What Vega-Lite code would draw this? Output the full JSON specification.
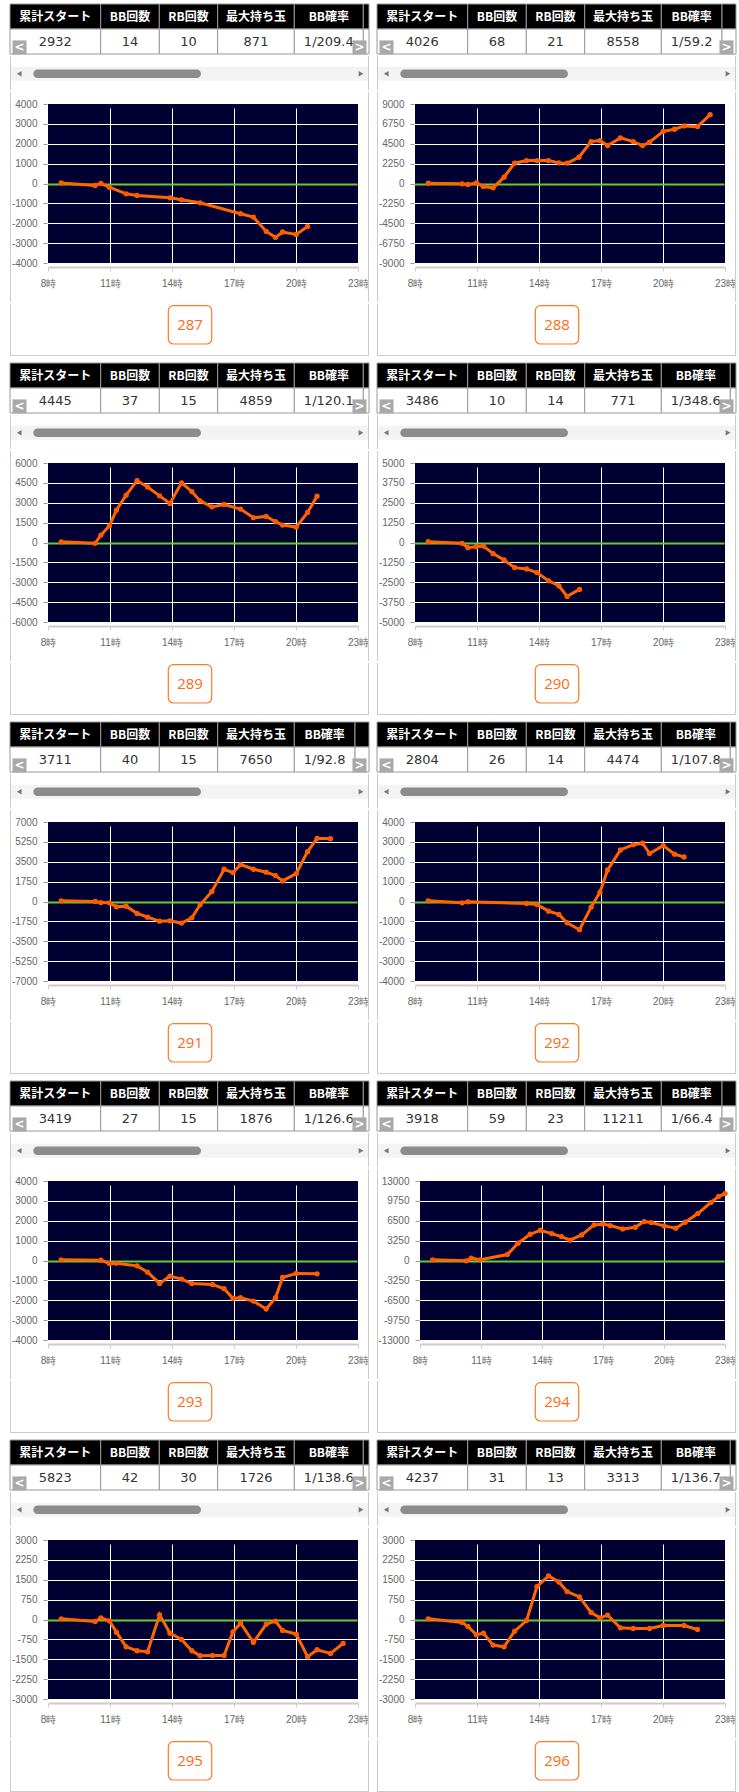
{
"$schema": "https://vega.github.io/schema/vega-lite/v6.json",
"background": "white",
"padding": {"left": 4, "top": 3, "right": 0, "bottom": 0},
"config": {
  "view": {"stroke": null},
  "numberFormat": "d",
  "axis": {"labelFont": "Liberation Sans", "labelFontSize": 10, "labelColor": "#666666", "gridColor": "#ffffff", "gridWidth": 1},
  "axisX": {"offset": 4, "domainColor": "#cccccc", "domainWidth": 2, "tickColor": "#cccccc", "tickSize": 4, "labelPadding": 7, "grid": true},
  "axisY": {"offset": 1, "domain": false, "tickColor": "#999999", "tickSize": 4, "labelPadding": 6, "grid": true, "labelOverlap": false}
},
"datasets": {
  "heads": [{"k":"start","c":0,"head":"累計スタート"},{"k":"bb","c":1,"head":"BB回数"},{"k":"rb","c":2,"head":"RB回数"},{"k":"max","c":3,"head":"最大持ち玉"},{"k":"prob","c":4,"head":"BB確率"},{"k":"more","c":5,"head":""}],
  "nav": [{"s":"<"},{"s":">"}],
  "stats": [
    {"p":287,"start":2932,"bb":14,"rb":10,"max":871,"prob":"1/209.4"},
    {"p":288,"start":4026,"bb":68,"rb":21,"max":8558,"prob":"1/59.2"},
    {"p":289,"start":4445,"bb":37,"rb":15,"max":4859,"prob":"1/120.1"},
    {"p":290,"start":3486,"bb":10,"rb":14,"max":771,"prob":"1/348.6"},
    {"p":291,"start":3711,"bb":40,"rb":15,"max":7650,"prob":"1/92.8"},
    {"p":292,"start":2804,"bb":26,"rb":14,"max":4474,"prob":"1/107.8"},
    {"p":293,"start":3419,"bb":27,"rb":15,"max":1876,"prob":"1/126.6"},
    {"p":294,"start":3918,"bb":59,"rb":23,"max":11211,"prob":"1/66.4"},
    {"p":295,"start":5823,"bb":42,"rb":30,"max":1726,"prob":"1/138.6"},
    {"p":296,"start":4237,"bb":31,"rb":13,"max":3313,"prob":"1/136.7"}
  ],
  "pts": [
    {"p":287,"h":8.64,"v":30},{"p":287,"h":10.28,"v":-100},{"p":287,"h":10.56,"v":0},{"p":287,"h":10.97,"v":-185},{"p":287,"h":11.78,"v":-520},{"p":287,"h":12.31,"v":-600},{"p":287,"h":13.9,"v":-720},{"p":287,"h":14.46,"v":-820},{"p":287,"h":15.36,"v":-970},{"p":287,"h":17.32,"v":-1520},{"p":287,"h":17.94,"v":-1690},{"p":287,"h":18.56,"v":-2410},{"p":287,"h":19.01,"v":-2710},{"p":287,"h":19.35,"v":-2440},{"p":287,"h":20.01,"v":-2560},{"p":287,"h":20.56,"v":-2160},
    {"p":288,"h":8.64,"v":30},{"p":288,"h":10.28,"v":-40},{"p":288,"h":10.56,"v":-110},{"p":288,"h":10.97,"v":75},{"p":288,"h":11.31,"v":-340},{"p":288,"h":11.78,"v":-490},{"p":288,"h":12.31,"v":715},{"p":288,"h":12.82,"v":2300},{"p":288,"h":13.4,"v":2600},{"p":288,"h":13.9,"v":2600},{"p":288,"h":14.46,"v":2600},{"p":288,"h":14.96,"v":2335},{"p":288,"h":15.36,"v":2300},{"p":288,"h":15.93,"v":2975},{"p":288,"h":16.52,"v":4745},{"p":288,"h":16.95,"v":4860},{"p":288,"h":17.32,"v":4295},{"p":288,"h":17.94,"v":5160},{"p":288,"h":18.56,"v":4745},{"p":288,"h":19.01,"v":4295},{"p":288,"h":19.35,"v":4670},{"p":288,"h":20.01,"v":5910},{"p":288,"h":20.56,"v":6140},{"p":288,"h":21.02,"v":6515},{"p":288,"h":21.67,"v":6440},{"p":288,"h":22.28,"v":7795},
    {"p":289,"h":8.64,"v":50},{"p":289,"h":10.28,"v":-60},{"p":289,"h":10.56,"v":560},{"p":289,"h":10.97,"v":1260},{"p":289,"h":11.31,"v":2440},{"p":289,"h":11.78,"v":3570},{"p":289,"h":12.31,"v":4670},{"p":289,"h":12.82,"v":4190},{"p":289,"h":13.4,"v":3520},{"p":289,"h":13.9,"v":2940},{"p":289,"h":14.46,"v":4500},{"p":289,"h":14.96,"v":3840},{"p":289,"h":15.36,"v":3140},{"p":289,"h":15.93,"v":2690},{"p":289,"h":16.52,"v":2870},{"p":289,"h":17.32,"v":2520},{"p":289,"h":17.94,"v":1870},{"p":289,"h":18.56,"v":1970},{"p":289,"h":19.01,"v":1570},{"p":289,"h":19.35,"v":1315},{"p":289,"h":20.01,"v":1165},{"p":289,"h":20.56,"v":2270},{"p":289,"h":21.02,"v":3500},
    {"p":290,"h":8.64,"v":50},{"p":290,"h":10.28,"v":-50},{"p":290,"h":10.56,"v":-325},{"p":290,"h":10.97,"v":-260},{"p":290,"h":11.31,"v":-220},{"p":290,"h":11.78,"v":-700},{"p":290,"h":12.31,"v":-1100},{"p":290,"h":12.82,"v":-1580},{"p":290,"h":13.4,"v":-1660},{"p":290,"h":13.9,"v":-1890},{"p":290,"h":14.46,"v":-2410},{"p":290,"h":14.96,"v":-2720},{"p":290,"h":15.36,"v":-3390},{"p":290,"h":15.96,"v":-2950},
    {"p":291,"h":8.64,"v":60},{"p":291,"h":10.28,"v":0},{"p":291,"h":10.56,"v":-90},{"p":291,"h":10.97,"v":-120},{"p":291,"h":11.31,"v":-470},{"p":291,"h":11.78,"v":-410},{"p":291,"h":12.31,"v":-1050},{"p":291,"h":12.82,"v":-1380},{"p":291,"h":13.4,"v":-1730},{"p":291,"h":13.9,"v":-1700},{"p":291,"h":14.46,"v":-1900},{"p":291,"h":14.96,"v":-1440},{"p":291,"h":15.36,"v":-290},{"p":291,"h":15.93,"v":880},{"p":291,"h":16.52,"v":2840},{"p":291,"h":16.95,"v":2550},{"p":291,"h":17.32,"v":3250},{"p":291,"h":17.94,"v":2840},{"p":291,"h":18.56,"v":2580},{"p":291,"h":19.01,"v":2285},{"p":291,"h":19.35,"v":1815},{"p":291,"h":20.01,"v":2460},{"p":291,"h":20.56,"v":4390},{"p":291,"h":21.02,"v":5565},{"p":291,"h":21.67,"v":5535},
    {"p":292,"h":8.64,"v":35},{"p":292,"h":10.28,"v":-65},{"p":292,"h":10.56,"v":-15},{"p":292,"h":13.4,"v":-100},{"p":292,"h":13.9,"v":-150},{"p":292,"h":14.46,"v":-485},{"p":292,"h":14.96,"v":-650},{"p":292,"h":15.36,"v":-1070},{"p":292,"h":15.96,"v":-1420},{"p":292,"h":16.52,"v":-285},{"p":292,"h":16.95,"v":470},{"p":292,"h":17.32,"v":1590},{"p":292,"h":17.94,"v":2595},{"p":292,"h":18.56,"v":2860},{"p":292,"h":19.01,"v":2930},{"p":292,"h":19.35,"v":2410},{"p":292,"h":20.01,"v":2810},{"p":292,"h":20.56,"v":2380},{"p":292,"h":21.02,"v":2240},
    {"p":293,"h":8.64,"v":35},{"p":293,"h":10.56,"v":15},{"p":293,"h":10.97,"v":-150},{"p":293,"h":11.31,"v":-135},{"p":293,"h":12.31,"v":-270},{"p":293,"h":12.82,"v":-585},{"p":293,"h":13.4,"v":-1155},{"p":293,"h":13.9,"v":-785},{"p":293,"h":14.46,"v":-935},{"p":293,"h":14.96,"v":-1155},{"p":293,"h":15.96,"v":-1205},{"p":293,"h":16.52,"v":-1420},{"p":293,"h":16.95,"v":-1905},{"p":293,"h":17.32,"v":-1875},{"p":293,"h":17.94,"v":-2040},{"p":293,"h":18.56,"v":-2440},{"p":293,"h":19.01,"v":-1875},{"p":293,"h":19.35,"v":-855},{"p":293,"h":20.01,"v":-650},{"p":293,"h":21.02,"v":-670},
    {"p":294,"h":8.62,"v":110},{"p":294,"h":10.27,"v":-55},{"p":294,"h":10.52,"v":380},{"p":294,"h":10.96,"v":110},{"p":294,"h":12.3,"v":980},{"p":294,"h":12.82,"v":2830},{"p":294,"h":13.42,"v":4300},{"p":294,"h":13.92,"v":4950},{"p":294,"h":14.48,"v":4400},{"p":294,"h":14.96,"v":3915},{"p":294,"h":15.38,"v":3320},{"p":294,"h":15.95,"v":4190},{"p":294,"h":16.56,"v":5820},{"p":294,"h":16.99,"v":5980},{"p":294,"h":17.35,"v":5710},{"p":294,"h":17.97,"v":5170},{"p":294,"h":18.59,"v":5440},{"p":294,"h":19.02,"v":6360},{"p":294,"h":19.37,"v":6200},{"p":294,"h":20.01,"v":5660},{"p":294,"h":20.58,"v":5280},{"p":294,"h":21.04,"v":6255},{"p":294,"h":21.66,"v":7670},{"p":294,"h":22.32,"v":9520},{"p":294,"h":22.69,"v":10500},{"p":294,"h":23.0,"v":10950},
    {"p":295,"h":8.64,"v":25},{"p":295,"h":10.28,"v":-75},{"p":295,"h":10.56,"v":63},{"p":295,"h":10.97,"v":-50},{"p":295,"h":11.31,"v":-477},{"p":295,"h":11.78,"v":-1030},{"p":295,"h":12.31,"v":-1180},{"p":295,"h":12.82,"v":-1217},{"p":295,"h":13.4,"v":176},{"p":295,"h":13.9,"v":-515},{"p":295,"h":14.46,"v":-753},{"p":295,"h":14.96,"v":-1180},{"p":295,"h":15.36,"v":-1368},{"p":295,"h":15.96,"v":-1355},{"p":295,"h":16.52,"v":-1355},{"p":295,"h":16.95,"v":-464},{"p":295,"h":17.32,"v":-138},{"p":295,"h":17.94,"v":-866},{"p":295,"h":18.56,"v":-176},{"p":295,"h":19.01,"v":-63},{"p":295,"h":19.35,"v":-414},{"p":295,"h":20.01,"v":-552},{"p":295,"h":20.56,"v":-1406},{"p":295,"h":21.02,"v":-1142},{"p":295,"h":21.67,"v":-1280},{"p":295,"h":22.28,"v":-904},
    {"p":296,"h":8.64,"v":25},{"p":296,"h":10.28,"v":-113},{"p":296,"h":10.56,"v":-264},{"p":296,"h":10.97,"v":-577},{"p":296,"h":11.31,"v":-515},{"p":296,"h":11.78,"v":-966},{"p":296,"h":12.31,"v":-1030},{"p":296,"h":12.82,"v":-439},{"p":296,"h":13.4,"v":-38},{"p":296,"h":13.9,"v":1242},{"p":296,"h":14.46,"v":1644},{"p":296,"h":14.96,"v":1418},{"p":296,"h":15.36,"v":1054},{"p":296,"h":15.96,"v":853},{"p":296,"h":16.52,"v":264},{"p":296,"h":16.95,"v":63},{"p":296,"h":17.32,"v":163},{"p":296,"h":17.94,"v":-314},{"p":296,"h":18.56,"v":-339},{"p":296,"h":19.35,"v":-339},{"p":296,"h":20.01,"v":-226},{"p":296,"h":21.02,"v":-226},{"p":296,"h":21.67,"v":-377}
  ]
},
"vconcat": [
{"hconcat": [
{"vconcat":[
{"width":359,"height":50,"resolve":{"scale":{"x":"independent"}},"layer":[{"data":{"name":"heads"},"transform":[{"calculate":"datum.c+1","as":"c2"},{"calculate":"datum.c+0.5","as":"cm"}],"layer":[{"mark":{"type":"rect","fill":"#000000","stroke":"#999999","strokeWidth":1},"encoding":{"x":{"field":"c","type":"quantitative","scale":{"domain":[0,1,2,3,4,5,6],"range":[0,90.7,149.3,207.7,284.3,353.3,359],"nice":false,"zero":false},"axis":null},"x2":{"field":"c2"},"y":{"datum":0,"scale":{"domain":[0,2],"reverse":true,"nice":false,"zero":false},"axis":null},"y2":{"datum":1}}},{"mark":{"type":"rect","fill":"#ffffff","stroke":"#999999","strokeWidth":1},"encoding":{"x":{"field":"c","type":"quantitative","axis":null},"x2":{"field":"c2"},"y":{"datum":1,"axis":null},"y2":{"datum":2}}},{"mark":{"type":"text","color":"#ffffff","font":"Noto Sans CJK JP","fontSize":12,"fontWeight":"bold"},"encoding":{"x":{"field":"cm","type":"quantitative","axis":null},"y":{"datum":0.5,"axis":null},"text":{"field":"head","type":"nominal"}}}]},{"data":{"name":"stats"},"transform":[{"filter":"datum.p==287"},{"fold":["start","bb","rb","max","prob"]},{"lookup":"key","from":{"data":{"name":"heads"},"key":"k","fields":["c"]}},{"calculate":"datum.c+0.5","as":"cm"}],"mark":{"type":"text","color":"#333333","font":"DejaVu Sans","fontSize":13},"encoding":{"x":{"field":"cm","type":"quantitative","scale":{"domain":[0,1,2,3,4,5,6],"range":[0,90.7,149.3,207.7,284.3,353.3,359],"nice":false,"zero":false},"axis":null},"y":{"datum":1.5,"axis":null},"text":{"field":"value","type":"nominal"}}},{"data":{"name":"nav"},"layer":[{"mark":{"type":"square","size":196,"color":"#a9a9a9","opacity":1,"filled":true},"encoding":{"x":{"field":"s","type":"nominal","scale":{"type":"point","domain":["<",">"],"padding":0.028},"axis":null},"y":{"datum":1.736,"axis":null}}},{"mark":{"type":"text","color":"#ffffff","font":"DejaVu Sans","fontSize":12,"fontWeight":"bold"},"encoding":{"x":{"field":"s","type":"nominal","axis":null},"y":{"datum":1.7,"axis":null},"text":{"field":"s","type":"nominal"}}}]}]},
{"width":359,"height":34,"data":{"values":[{}]},"layer":[{"mark":{"type":"rule","color":"#f3f3f3","strokeWidth":14},"encoding":{"x":{"datum":0.0028,"scale":{"domain":[0,1],"nice":false,"zero":false},"axis":null},"x2":{"datum":0.9972},"y":{"datum":0.48,"scale":{"domain":[0,1],"nice":false,"zero":false},"axis":null}}},{"mark":{"type":"rule","color":"#8c8c8c","strokeWidth":8.5,"strokeCap":"round"},"encoding":{"x":{"datum":0.07674,"axis":null},"x2":{"datum":0.52019},"y":{"datum":0.48,"axis":null}}},{"mark":{"type":"point","shape":"triangle-left","filled":true,"size":30,"color":"#777777","opacity":1},"encoding":{"x":{"datum":0.02563,"axis":null},"y":{"datum":0.48,"axis":null}}},{"mark":{"type":"point","shape":"triangle-right","filled":true,"size":30,"color":"#777777","opacity":1},"encoding":{"x":{"datum":0.97772,"axis":null},"y":{"datum":0.48,"axis":null}}},{"mark":{"type":"rule","color":"#cccccc","strokeWidth":1},"encoding":{"x":{"datum":0.001393,"axis":null}}},{"mark":{"type":"rule","color":"#cccccc","strokeWidth":1},"encoding":{"x":{"datum":0.998607,"axis":null}}}]},
{"hconcat":[
{"width":38,"height":159,"data":{"values":[{}]},"mark":{"type":"rule","color":"#cccccc","strokeWidth":1},"encoding":{"x":{"datum":0.01316,"scale":{"domain":[0,1],"nice":false,"zero":false},"axis":null},"y":{"datum":1.07547,"scale":{"domain":[0,1],"nice":false,"zero":false},"axis":null},"y2":{"datum":-0.24528}}},
{"width":310,"height":159,"view":{"fill":"#000033"},"data":{"name":"pts"},"transform":[{"filter":"datum.p==287"}],"mark":{"type":"line","color":"#ff6600","strokeWidth":3,"point":{"filled":true,"size":28,"color":"#ff5a00"}},"encoding":{"x":{"field":"h","type":"quantitative","title":null,"scale":{"domain":[8,23],"nice":false,"zero":false},"axis":{"values":[8,11,14,17,20,23],"labelExpr":"datum.value+'時'","labelFlush":false,"gridOpacity":{"condition":{"test":"datum.value==8||datum.value==23","value":0},"value":1}}},"y":{"field":"v","type":"quantitative","title":null,"scale":{"domain":[-4000,4000],"nice":false,"zero":false},"axis":{"values":[-4000,-3000,-2000,-1000,0,1000,2000,3000,4000],"labelExpr":"''+datum.value","gridOpacity":{"condition":{"test":"abs(datum.value)==4000","value":0},"value":1},"gridColor":{"condition":{"test":"datum.value==0","value":"#66cc33"},"value":"#ffffff"},"gridWidth":{"condition":{"test":"datum.value==0","value":2},"value":1}}}}},
{"width":11,"height":159,"data":{"values":[{}]},"mark":{"type":"rule","color":"#cccccc","strokeWidth":1},"encoding":{"x":{"datum":0.95455,"scale":{"domain":[0,1],"nice":false,"zero":false},"axis":null},"y":{"datum":1.07547,"scale":{"domain":[0,1],"nice":false,"zero":false},"axis":null},"y2":{"datum":-0.24528}}}
],"spacing":0,"bounds":"flush"},
{"width":359,"height":58,"data":{"name":"stats"},"transform":[{"filter":"datum.p==287"}],"layer":[{"mark":{"type":"rect","fill":"#ffffff","stroke":"#ff7b22","strokeWidth":1.2,"cornerRadius":5},"encoding":{"x":{"datum":0.44095,"scale":{"domain":[0,1],"nice":false,"zero":false},"axis":null},"x2":{"datum":0.56184},"y":{"datum":0.9707,"scale":{"domain":[0,1],"nice":false,"zero":false},"axis":null},"y2":{"datum":0.3103}}},{"mark":{"type":"text","color":"#ff6a13","font":"Open Sans","fontSize":15},"encoding":{"x":{"datum":0.5014,"axis":null},"y":{"datum":0.6405,"axis":null},"text":{"field":"p","type":"nominal"}}},{"mark":{"type":"rule","color":"#cccccc","strokeWidth":1},"encoding":{"x":{"datum":0.001393,"axis":null},"y":{"datum":1,"axis":null},"y2":{"datum":0.1121}}},{"mark":{"type":"rule","color":"#cccccc","strokeWidth":1},"encoding":{"x":{"datum":0.998607,"axis":null},"y":{"datum":1,"axis":null},"y2":{"datum":0.1121}}},{"mark":{"type":"rule","color":"#cccccc","strokeWidth":1},"encoding":{"x":{"datum":0,"axis":null},"x2":{"datum":1},"y":{"datum":0.1121,"axis":null}}}]}
],"spacing":0},

{"vconcat":[
{"width":359,"height":50,"resolve":{"scale":{"x":"independent"}},"layer":[{"data":{"name":"heads"},"transform":[{"calculate":"datum.c+1","as":"c2"},{"calculate":"datum.c+0.5","as":"cm"}],"layer":[{"mark":{"type":"rect","fill":"#000000","stroke":"#999999","strokeWidth":1},"encoding":{"x":{"field":"c","type":"quantitative","scale":{"domain":[0,1,2,3,4,5,6],"range":[0,90.7,149.3,207.7,284.3,345,359],"nice":false,"zero":false},"axis":null},"x2":{"field":"c2"},"y":{"datum":0,"scale":{"domain":[0,2],"reverse":true,"nice":false,"zero":false},"axis":null},"y2":{"datum":1}}},{"mark":{"type":"rect","fill":"#ffffff","stroke":"#999999","strokeWidth":1},"encoding":{"x":{"field":"c","type":"quantitative","axis":null},"x2":{"field":"c2"},"y":{"datum":1,"axis":null},"y2":{"datum":2}}},{"mark":{"type":"text","color":"#ffffff","font":"Noto Sans CJK JP","fontSize":12,"fontWeight":"bold"},"encoding":{"x":{"field":"cm","type":"quantitative","axis":null},"y":{"datum":0.5,"axis":null},"text":{"field":"head","type":"nominal"}}}]},{"data":{"name":"stats"},"transform":[{"filter":"datum.p==288"},{"fold":["start","bb","rb","max","prob"]},{"lookup":"key","from":{"data":{"name":"heads"},"key":"k","fields":["c"]}},{"calculate":"datum.c+0.5","as":"cm"}],"mark":{"type":"text","color":"#333333","font":"DejaVu Sans","fontSize":13},"encoding":{"x":{"field":"cm","type":"quantitative","scale":{"domain":[0,1,2,3,4,5,6],"range":[0,90.7,149.3,207.7,284.3,345,359],"nice":false,"zero":false},"axis":null},"y":{"datum":1.5,"axis":null},"text":{"field":"value","type":"nominal"}}},{"data":{"name":"nav"},"layer":[{"mark":{"type":"square","size":196,"color":"#a9a9a9","opacity":1,"filled":true},"encoding":{"x":{"field":"s","type":"nominal","scale":{"type":"point","domain":["<",">"],"padding":0.028},"axis":null},"y":{"datum":1.736,"axis":null}}},{"mark":{"type":"text","color":"#ffffff","font":"DejaVu Sans","fontSize":12,"fontWeight":"bold"},"encoding":{"x":{"field":"s","type":"nominal","axis":null},"y":{"datum":1.7,"axis":null},"text":{"field":"s","type":"nominal"}}}]}]},
{"width":359,"height":34,"data":{"values":[{}]},"layer":[{"mark":{"type":"rule","color":"#f3f3f3","strokeWidth":14},"encoding":{"x":{"datum":0.0028,"scale":{"domain":[0,1],"nice":false,"zero":false},"axis":null},"x2":{"datum":0.9972},"y":{"datum":0.48,"scale":{"domain":[0,1],"nice":false,"zero":false},"axis":null}}},{"mark":{"type":"rule","color":"#8c8c8c","strokeWidth":8.5,"strokeCap":"round"},"encoding":{"x":{"datum":0.07674,"axis":null},"x2":{"datum":0.52019},"y":{"datum":0.48,"axis":null}}},{"mark":{"type":"point","shape":"triangle-left","filled":true,"size":30,"color":"#777777","opacity":1},"encoding":{"x":{"datum":0.02563,"axis":null},"y":{"datum":0.48,"axis":null}}},{"mark":{"type":"point","shape":"triangle-right","filled":true,"size":30,"color":"#777777","opacity":1},"encoding":{"x":{"datum":0.97772,"axis":null},"y":{"datum":0.48,"axis":null}}},{"mark":{"type":"rule","color":"#cccccc","strokeWidth":1},"encoding":{"x":{"datum":0.001393,"axis":null}}},{"mark":{"type":"rule","color":"#cccccc","strokeWidth":1},"encoding":{"x":{"datum":0.998607,"axis":null}}}]},
{"hconcat":[
{"width":38,"height":159,"data":{"values":[{}]},"mark":{"type":"rule","color":"#cccccc","strokeWidth":1},"encoding":{"x":{"datum":0.01316,"scale":{"domain":[0,1],"nice":false,"zero":false},"axis":null},"y":{"datum":1.07547,"scale":{"domain":[0,1],"nice":false,"zero":false},"axis":null},"y2":{"datum":-0.24528}}},
{"width":310,"height":159,"view":{"fill":"#000033"},"data":{"name":"pts"},"transform":[{"filter":"datum.p==288"}],"mark":{"type":"line","color":"#ff6600","strokeWidth":3,"point":{"filled":true,"size":28,"color":"#ff5a00"}},"encoding":{"x":{"field":"h","type":"quantitative","title":null,"scale":{"domain":[8,23],"nice":false,"zero":false},"axis":{"values":[8,11,14,17,20,23],"labelExpr":"datum.value+'時'","labelFlush":false,"gridOpacity":{"condition":{"test":"datum.value==8||datum.value==23","value":0},"value":1}}},"y":{"field":"v","type":"quantitative","title":null,"scale":{"domain":[-9000,9000],"nice":false,"zero":false},"axis":{"values":[-9000,-6750,-4500,-2250,0,2250,4500,6750,9000],"labelExpr":"''+datum.value","gridOpacity":{"condition":{"test":"abs(datum.value)==9000","value":0},"value":1},"gridColor":{"condition":{"test":"datum.value==0","value":"#66cc33"},"value":"#ffffff"},"gridWidth":{"condition":{"test":"datum.value==0","value":2},"value":1}}}}},
{"width":11,"height":159,"data":{"values":[{}]},"mark":{"type":"rule","color":"#cccccc","strokeWidth":1},"encoding":{"x":{"datum":0.95455,"scale":{"domain":[0,1],"nice":false,"zero":false},"axis":null},"y":{"datum":1.07547,"scale":{"domain":[0,1],"nice":false,"zero":false},"axis":null},"y2":{"datum":-0.24528}}}
],"spacing":0,"bounds":"flush"},
{"width":359,"height":58,"data":{"name":"stats"},"transform":[{"filter":"datum.p==288"}],"layer":[{"mark":{"type":"rect","fill":"#ffffff","stroke":"#ff7b22","strokeWidth":1.2,"cornerRadius":5},"encoding":{"x":{"datum":0.44095,"scale":{"domain":[0,1],"nice":false,"zero":false},"axis":null},"x2":{"datum":0.56184},"y":{"datum":0.9707,"scale":{"domain":[0,1],"nice":false,"zero":false},"axis":null},"y2":{"datum":0.3103}}},{"mark":{"type":"text","color":"#ff6a13","font":"Open Sans","fontSize":15},"encoding":{"x":{"datum":0.5014,"axis":null},"y":{"datum":0.6405,"axis":null},"text":{"field":"p","type":"nominal"}}},{"mark":{"type":"rule","color":"#cccccc","strokeWidth":1},"encoding":{"x":{"datum":0.001393,"axis":null},"y":{"datum":1,"axis":null},"y2":{"datum":0.1121}}},{"mark":{"type":"rule","color":"#cccccc","strokeWidth":1},"encoding":{"x":{"datum":0.998607,"axis":null},"y":{"datum":1,"axis":null},"y2":{"datum":0.1121}}},{"mark":{"type":"rule","color":"#cccccc","strokeWidth":1},"encoding":{"x":{"datum":0,"axis":null},"x2":{"datum":1},"y":{"datum":0.1121,"axis":null}}}]}
],"spacing":0}
], "spacing": -4},

{"hconcat": [
{"vconcat":[
{"width":359,"height":50,"resolve":{"scale":{"x":"independent"}},"layer":[{"data":{"name":"heads"},"transform":[{"calculate":"datum.c+1","as":"c2"},{"calculate":"datum.c+0.5","as":"cm"}],"layer":[{"mark":{"type":"rect","fill":"#000000","stroke":"#999999","strokeWidth":1},"encoding":{"x":{"field":"c","type":"quantitative","scale":{"domain":[0,1,2,3,4,5,6],"range":[0,90.7,149.3,207.7,284.3,353.3,359],"nice":false,"zero":false},"axis":null},"x2":{"field":"c2"},"y":{"datum":0,"scale":{"domain":[0,2],"reverse":true,"nice":false,"zero":false},"axis":null},"y2":{"datum":1}}},{"mark":{"type":"rect","fill":"#ffffff","stroke":"#999999","strokeWidth":1},"encoding":{"x":{"field":"c","type":"quantitative","axis":null},"x2":{"field":"c2"},"y":{"datum":1,"axis":null},"y2":{"datum":2}}},{"mark":{"type":"text","color":"#ffffff","font":"Noto Sans CJK JP","fontSize":12,"fontWeight":"bold"},"encoding":{"x":{"field":"cm","type":"quantitative","axis":null},"y":{"datum":0.5,"axis":null},"text":{"field":"head","type":"nominal"}}}]},{"data":{"name":"stats"},"transform":[{"filter":"datum.p==289"},{"fold":["start","bb","rb","max","prob"]},{"lookup":"key","from":{"data":{"name":"heads"},"key":"k","fields":["c"]}},{"calculate":"datum.c+0.5","as":"cm"}],"mark":{"type":"text","color":"#333333","font":"DejaVu Sans","fontSize":13},"encoding":{"x":{"field":"cm","type":"quantitative","scale":{"domain":[0,1,2,3,4,5,6],"range":[0,90.7,149.3,207.7,284.3,353.3,359],"nice":false,"zero":false},"axis":null},"y":{"datum":1.5,"axis":null},"text":{"field":"value","type":"nominal"}}},{"data":{"name":"nav"},"layer":[{"mark":{"type":"square","size":196,"color":"#a9a9a9","opacity":1,"filled":true},"encoding":{"x":{"field":"s","type":"nominal","scale":{"type":"point","domain":["<",">"],"padding":0.028},"axis":null},"y":{"datum":1.736,"axis":null}}},{"mark":{"type":"text","color":"#ffffff","font":"DejaVu Sans","fontSize":12,"fontWeight":"bold"},"encoding":{"x":{"field":"s","type":"nominal","axis":null},"y":{"datum":1.7,"axis":null},"text":{"field":"s","type":"nominal"}}}]}]},
{"width":359,"height":34,"data":{"values":[{}]},"layer":[{"mark":{"type":"rule","color":"#f3f3f3","strokeWidth":14},"encoding":{"x":{"datum":0.0028,"scale":{"domain":[0,1],"nice":false,"zero":false},"axis":null},"x2":{"datum":0.9972},"y":{"datum":0.48,"scale":{"domain":[0,1],"nice":false,"zero":false},"axis":null}}},{"mark":{"type":"rule","color":"#8c8c8c","strokeWidth":8.5,"strokeCap":"round"},"encoding":{"x":{"datum":0.07674,"axis":null},"x2":{"datum":0.52019},"y":{"datum":0.48,"axis":null}}},{"mark":{"type":"point","shape":"triangle-left","filled":true,"size":30,"color":"#777777","opacity":1},"encoding":{"x":{"datum":0.02563,"axis":null},"y":{"datum":0.48,"axis":null}}},{"mark":{"type":"point","shape":"triangle-right","filled":true,"size":30,"color":"#777777","opacity":1},"encoding":{"x":{"datum":0.97772,"axis":null},"y":{"datum":0.48,"axis":null}}},{"mark":{"type":"rule","color":"#cccccc","strokeWidth":1},"encoding":{"x":{"datum":0.001393,"axis":null}}},{"mark":{"type":"rule","color":"#cccccc","strokeWidth":1},"encoding":{"x":{"datum":0.998607,"axis":null}}}]},
{"hconcat":[
{"width":38,"height":159,"data":{"values":[{}]},"mark":{"type":"rule","color":"#cccccc","strokeWidth":1},"encoding":{"x":{"datum":0.01316,"scale":{"domain":[0,1],"nice":false,"zero":false},"axis":null},"y":{"datum":1.07547,"scale":{"domain":[0,1],"nice":false,"zero":false},"axis":null},"y2":{"datum":-0.24528}}},
{"width":310,"height":159,"view":{"fill":"#000033"},"data":{"name":"pts"},"transform":[{"filter":"datum.p==289"}],"mark":{"type":"line","color":"#ff6600","strokeWidth":3,"point":{"filled":true,"size":28,"color":"#ff5a00"}},"encoding":{"x":{"field":"h","type":"quantitative","title":null,"scale":{"domain":[8,23],"nice":false,"zero":false},"axis":{"values":[8,11,14,17,20,23],"labelExpr":"datum.value+'時'","labelFlush":false,"gridOpacity":{"condition":{"test":"datum.value==8||datum.value==23","value":0},"value":1}}},"y":{"field":"v","type":"quantitative","title":null,"scale":{"domain":[-6000,6000],"nice":false,"zero":false},"axis":{"values":[-6000,-4500,-3000,-1500,0,1500,3000,4500,6000],"labelExpr":"''+datum.value","gridOpacity":{"condition":{"test":"abs(datum.value)==6000","value":0},"value":1},"gridColor":{"condition":{"test":"datum.value==0","value":"#66cc33"},"value":"#ffffff"},"gridWidth":{"condition":{"test":"datum.value==0","value":2},"value":1}}}}},
{"width":11,"height":159,"data":{"values":[{}]},"mark":{"type":"rule","color":"#cccccc","strokeWidth":1},"encoding":{"x":{"datum":0.95455,"scale":{"domain":[0,1],"nice":false,"zero":false},"axis":null},"y":{"datum":1.07547,"scale":{"domain":[0,1],"nice":false,"zero":false},"axis":null},"y2":{"datum":-0.24528}}}
],"spacing":0,"bounds":"flush"},
{"width":359,"height":58,"data":{"name":"stats"},"transform":[{"filter":"datum.p==289"}],"layer":[{"mark":{"type":"rect","fill":"#ffffff","stroke":"#ff7b22","strokeWidth":1.2,"cornerRadius":5},"encoding":{"x":{"datum":0.44095,"scale":{"domain":[0,1],"nice":false,"zero":false},"axis":null},"x2":{"datum":0.56184},"y":{"datum":0.9707,"scale":{"domain":[0,1],"nice":false,"zero":false},"axis":null},"y2":{"datum":0.3103}}},{"mark":{"type":"text","color":"#ff6a13","font":"Open Sans","fontSize":15},"encoding":{"x":{"datum":0.5014,"axis":null},"y":{"datum":0.6405,"axis":null},"text":{"field":"p","type":"nominal"}}},{"mark":{"type":"rule","color":"#cccccc","strokeWidth":1},"encoding":{"x":{"datum":0.001393,"axis":null},"y":{"datum":1,"axis":null},"y2":{"datum":0.1121}}},{"mark":{"type":"rule","color":"#cccccc","strokeWidth":1},"encoding":{"x":{"datum":0.998607,"axis":null},"y":{"datum":1,"axis":null},"y2":{"datum":0.1121}}},{"mark":{"type":"rule","color":"#cccccc","strokeWidth":1},"encoding":{"x":{"datum":0,"axis":null},"x2":{"datum":1},"y":{"datum":0.1121,"axis":null}}}]}
],"spacing":0},

{"vconcat":[
{"width":359,"height":50,"resolve":{"scale":{"x":"independent"}},"layer":[{"data":{"name":"heads"},"transform":[{"calculate":"datum.c+1","as":"c2"},{"calculate":"datum.c+0.5","as":"cm"}],"layer":[{"mark":{"type":"rect","fill":"#000000","stroke":"#999999","strokeWidth":1},"encoding":{"x":{"field":"c","type":"quantitative","scale":{"domain":[0,1,2,3,4,5,6],"range":[0,90.7,149.3,207.7,284.3,353.3,359],"nice":false,"zero":false},"axis":null},"x2":{"field":"c2"},"y":{"datum":0,"scale":{"domain":[0,2],"reverse":true,"nice":false,"zero":false},"axis":null},"y2":{"datum":1}}},{"mark":{"type":"rect","fill":"#ffffff","stroke":"#999999","strokeWidth":1},"encoding":{"x":{"field":"c","type":"quantitative","axis":null},"x2":{"field":"c2"},"y":{"datum":1,"axis":null},"y2":{"datum":2}}},{"mark":{"type":"text","color":"#ffffff","font":"Noto Sans CJK JP","fontSize":12,"fontWeight":"bold"},"encoding":{"x":{"field":"cm","type":"quantitative","axis":null},"y":{"datum":0.5,"axis":null},"text":{"field":"head","type":"nominal"}}}]},{"data":{"name":"stats"},"transform":[{"filter":"datum.p==290"},{"fold":["start","bb","rb","max","prob"]},{"lookup":"key","from":{"data":{"name":"heads"},"key":"k","fields":["c"]}},{"calculate":"datum.c+0.5","as":"cm"}],"mark":{"type":"text","color":"#333333","font":"DejaVu Sans","fontSize":13},"encoding":{"x":{"field":"cm","type":"quantitative","scale":{"domain":[0,1,2,3,4,5,6],"range":[0,90.7,149.3,207.7,284.3,353.3,359],"nice":false,"zero":false},"axis":null},"y":{"datum":1.5,"axis":null},"text":{"field":"value","type":"nominal"}}},{"data":{"name":"nav"},"layer":[{"mark":{"type":"square","size":196,"color":"#a9a9a9","opacity":1,"filled":true},"encoding":{"x":{"field":"s","type":"nominal","scale":{"type":"point","domain":["<",">"],"padding":0.028},"axis":null},"y":{"datum":1.736,"axis":null}}},{"mark":{"type":"text","color":"#ffffff","font":"DejaVu Sans","fontSize":12,"fontWeight":"bold"},"encoding":{"x":{"field":"s","type":"nominal","axis":null},"y":{"datum":1.7,"axis":null},"text":{"field":"s","type":"nominal"}}}]}]},
{"width":359,"height":34,"data":{"values":[{}]},"layer":[{"mark":{"type":"rule","color":"#f3f3f3","strokeWidth":14},"encoding":{"x":{"datum":0.0028,"scale":{"domain":[0,1],"nice":false,"zero":false},"axis":null},"x2":{"datum":0.9972},"y":{"datum":0.48,"scale":{"domain":[0,1],"nice":false,"zero":false},"axis":null}}},{"mark":{"type":"rule","color":"#8c8c8c","strokeWidth":8.5,"strokeCap":"round"},"encoding":{"x":{"datum":0.07674,"axis":null},"x2":{"datum":0.52019},"y":{"datum":0.48,"axis":null}}},{"mark":{"type":"point","shape":"triangle-left","filled":true,"size":30,"color":"#777777","opacity":1},"encoding":{"x":{"datum":0.02563,"axis":null},"y":{"datum":0.48,"axis":null}}},{"mark":{"type":"point","shape":"triangle-right","filled":true,"size":30,"color":"#777777","opacity":1},"encoding":{"x":{"datum":0.97772,"axis":null},"y":{"datum":0.48,"axis":null}}},{"mark":{"type":"rule","color":"#cccccc","strokeWidth":1},"encoding":{"x":{"datum":0.001393,"axis":null}}},{"mark":{"type":"rule","color":"#cccccc","strokeWidth":1},"encoding":{"x":{"datum":0.998607,"axis":null}}}]},
{"hconcat":[
{"width":38,"height":159,"data":{"values":[{}]},"mark":{"type":"rule","color":"#cccccc","strokeWidth":1},"encoding":{"x":{"datum":0.01316,"scale":{"domain":[0,1],"nice":false,"zero":false},"axis":null},"y":{"datum":1.07547,"scale":{"domain":[0,1],"nice":false,"zero":false},"axis":null},"y2":{"datum":-0.24528}}},
{"width":310,"height":159,"view":{"fill":"#000033"},"data":{"name":"pts"},"transform":[{"filter":"datum.p==290"}],"mark":{"type":"line","color":"#ff6600","strokeWidth":3,"point":{"filled":true,"size":28,"color":"#ff5a00"}},"encoding":{"x":{"field":"h","type":"quantitative","title":null,"scale":{"domain":[8,23],"nice":false,"zero":false},"axis":{"values":[8,11,14,17,20,23],"labelExpr":"datum.value+'時'","labelFlush":false,"gridOpacity":{"condition":{"test":"datum.value==8||datum.value==23","value":0},"value":1}}},"y":{"field":"v","type":"quantitative","title":null,"scale":{"domain":[-5000,5000],"nice":false,"zero":false},"axis":{"values":[-5000,-3750,-2500,-1250,0,1250,2500,3750,5000],"labelExpr":"''+datum.value","gridOpacity":{"condition":{"test":"abs(datum.value)==5000","value":0},"value":1},"gridColor":{"condition":{"test":"datum.value==0","value":"#66cc33"},"value":"#ffffff"},"gridWidth":{"condition":{"test":"datum.value==0","value":2},"value":1}}}}},
{"width":11,"height":159,"data":{"values":[{}]},"mark":{"type":"rule","color":"#cccccc","strokeWidth":1},"encoding":{"x":{"datum":0.95455,"scale":{"domain":[0,1],"nice":false,"zero":false},"axis":null},"y":{"datum":1.07547,"scale":{"domain":[0,1],"nice":false,"zero":false},"axis":null},"y2":{"datum":-0.24528}}}
],"spacing":0,"bounds":"flush"},
{"width":359,"height":58,"data":{"name":"stats"},"transform":[{"filter":"datum.p==290"}],"layer":[{"mark":{"type":"rect","fill":"#ffffff","stroke":"#ff7b22","strokeWidth":1.2,"cornerRadius":5},"encoding":{"x":{"datum":0.44095,"scale":{"domain":[0,1],"nice":false,"zero":false},"axis":null},"x2":{"datum":0.56184},"y":{"datum":0.9707,"scale":{"domain":[0,1],"nice":false,"zero":false},"axis":null},"y2":{"datum":0.3103}}},{"mark":{"type":"text","color":"#ff6a13","font":"Open Sans","fontSize":15},"encoding":{"x":{"datum":0.5014,"axis":null},"y":{"datum":0.6405,"axis":null},"text":{"field":"p","type":"nominal"}}},{"mark":{"type":"rule","color":"#cccccc","strokeWidth":1},"encoding":{"x":{"datum":0.001393,"axis":null},"y":{"datum":1,"axis":null},"y2":{"datum":0.1121}}},{"mark":{"type":"rule","color":"#cccccc","strokeWidth":1},"encoding":{"x":{"datum":0.998607,"axis":null},"y":{"datum":1,"axis":null},"y2":{"datum":0.1121}}},{"mark":{"type":"rule","color":"#cccccc","strokeWidth":1},"encoding":{"x":{"datum":0,"axis":null},"x2":{"datum":1},"y":{"datum":0.1121,"axis":null}}}]}
],"spacing":0}
], "spacing": -4},

{"hconcat": [
{"vconcat":[
{"width":359,"height":50,"resolve":{"scale":{"x":"independent"}},"layer":[{"data":{"name":"heads"},"transform":[{"calculate":"datum.c+1","as":"c2"},{"calculate":"datum.c+0.5","as":"cm"}],"layer":[{"mark":{"type":"rect","fill":"#000000","stroke":"#999999","strokeWidth":1},"encoding":{"x":{"field":"c","type":"quantitative","scale":{"domain":[0,1,2,3,4,5,6],"range":[0,90.7,149.3,207.7,284.3,345,359],"nice":false,"zero":false},"axis":null},"x2":{"field":"c2"},"y":{"datum":0,"scale":{"domain":[0,2],"reverse":true,"nice":false,"zero":false},"axis":null},"y2":{"datum":1}}},{"mark":{"type":"rect","fill":"#ffffff","stroke":"#999999","strokeWidth":1},"encoding":{"x":{"field":"c","type":"quantitative","axis":null},"x2":{"field":"c2"},"y":{"datum":1,"axis":null},"y2":{"datum":2}}},{"mark":{"type":"text","color":"#ffffff","font":"Noto Sans CJK JP","fontSize":12,"fontWeight":"bold"},"encoding":{"x":{"field":"cm","type":"quantitative","axis":null},"y":{"datum":0.5,"axis":null},"text":{"field":"head","type":"nominal"}}}]},{"data":{"name":"stats"},"transform":[{"filter":"datum.p==291"},{"fold":["start","bb","rb","max","prob"]},{"lookup":"key","from":{"data":{"name":"heads"},"key":"k","fields":["c"]}},{"calculate":"datum.c+0.5","as":"cm"}],"mark":{"type":"text","color":"#333333","font":"DejaVu Sans","fontSize":13},"encoding":{"x":{"field":"cm","type":"quantitative","scale":{"domain":[0,1,2,3,4,5,6],"range":[0,90.7,149.3,207.7,284.3,345,359],"nice":false,"zero":false},"axis":null},"y":{"datum":1.5,"axis":null},"text":{"field":"value","type":"nominal"}}},{"data":{"name":"nav"},"layer":[{"mark":{"type":"square","size":196,"color":"#a9a9a9","opacity":1,"filled":true},"encoding":{"x":{"field":"s","type":"nominal","scale":{"type":"point","domain":["<",">"],"padding":0.028},"axis":null},"y":{"datum":1.736,"axis":null}}},{"mark":{"type":"text","color":"#ffffff","font":"DejaVu Sans","fontSize":12,"fontWeight":"bold"},"encoding":{"x":{"field":"s","type":"nominal","axis":null},"y":{"datum":1.7,"axis":null},"text":{"field":"s","type":"nominal"}}}]}]},
{"width":359,"height":34,"data":{"values":[{}]},"layer":[{"mark":{"type":"rule","color":"#f3f3f3","strokeWidth":14},"encoding":{"x":{"datum":0.0028,"scale":{"domain":[0,1],"nice":false,"zero":false},"axis":null},"x2":{"datum":0.9972},"y":{"datum":0.48,"scale":{"domain":[0,1],"nice":false,"zero":false},"axis":null}}},{"mark":{"type":"rule","color":"#8c8c8c","strokeWidth":8.5,"strokeCap":"round"},"encoding":{"x":{"datum":0.07674,"axis":null},"x2":{"datum":0.52019},"y":{"datum":0.48,"axis":null}}},{"mark":{"type":"point","shape":"triangle-left","filled":true,"size":30,"color":"#777777","opacity":1},"encoding":{"x":{"datum":0.02563,"axis":null},"y":{"datum":0.48,"axis":null}}},{"mark":{"type":"point","shape":"triangle-right","filled":true,"size":30,"color":"#777777","opacity":1},"encoding":{"x":{"datum":0.97772,"axis":null},"y":{"datum":0.48,"axis":null}}},{"mark":{"type":"rule","color":"#cccccc","strokeWidth":1},"encoding":{"x":{"datum":0.001393,"axis":null}}},{"mark":{"type":"rule","color":"#cccccc","strokeWidth":1},"encoding":{"x":{"datum":0.998607,"axis":null}}}]},
{"hconcat":[
{"width":38,"height":159,"data":{"values":[{}]},"mark":{"type":"rule","color":"#cccccc","strokeWidth":1},"encoding":{"x":{"datum":0.01316,"scale":{"domain":[0,1],"nice":false,"zero":false},"axis":null},"y":{"datum":1.07547,"scale":{"domain":[0,1],"nice":false,"zero":false},"axis":null},"y2":{"datum":-0.24528}}},
{"width":310,"height":159,"view":{"fill":"#000033"},"data":{"name":"pts"},"transform":[{"filter":"datum.p==291"}],"mark":{"type":"line","color":"#ff6600","strokeWidth":3,"point":{"filled":true,"size":28,"color":"#ff5a00"}},"encoding":{"x":{"field":"h","type":"quantitative","title":null,"scale":{"domain":[8,23],"nice":false,"zero":false},"axis":{"values":[8,11,14,17,20,23],"labelExpr":"datum.value+'時'","labelFlush":false,"gridOpacity":{"condition":{"test":"datum.value==8||datum.value==23","value":0},"value":1}}},"y":{"field":"v","type":"quantitative","title":null,"scale":{"domain":[-7000,7000],"nice":false,"zero":false},"axis":{"values":[-7000,-5250,-3500,-1750,0,1750,3500,5250,7000],"labelExpr":"''+datum.value","gridOpacity":{"condition":{"test":"abs(datum.value)==7000","value":0},"value":1},"gridColor":{"condition":{"test":"datum.value==0","value":"#66cc33"},"value":"#ffffff"},"gridWidth":{"condition":{"test":"datum.value==0","value":2},"value":1}}}}},
{"width":11,"height":159,"data":{"values":[{}]},"mark":{"type":"rule","color":"#cccccc","strokeWidth":1},"encoding":{"x":{"datum":0.95455,"scale":{"domain":[0,1],"nice":false,"zero":false},"axis":null},"y":{"datum":1.07547,"scale":{"domain":[0,1],"nice":false,"zero":false},"axis":null},"y2":{"datum":-0.24528}}}
],"spacing":0,"bounds":"flush"},
{"width":359,"height":58,"data":{"name":"stats"},"transform":[{"filter":"datum.p==291"}],"layer":[{"mark":{"type":"rect","fill":"#ffffff","stroke":"#ff7b22","strokeWidth":1.2,"cornerRadius":5},"encoding":{"x":{"datum":0.44095,"scale":{"domain":[0,1],"nice":false,"zero":false},"axis":null},"x2":{"datum":0.56184},"y":{"datum":0.9707,"scale":{"domain":[0,1],"nice":false,"zero":false},"axis":null},"y2":{"datum":0.3103}}},{"mark":{"type":"text","color":"#ff6a13","font":"Open Sans","fontSize":15},"encoding":{"x":{"datum":0.5014,"axis":null},"y":{"datum":0.6405,"axis":null},"text":{"field":"p","type":"nominal"}}},{"mark":{"type":"rule","color":"#cccccc","strokeWidth":1},"encoding":{"x":{"datum":0.001393,"axis":null},"y":{"datum":1,"axis":null},"y2":{"datum":0.1121}}},{"mark":{"type":"rule","color":"#cccccc","strokeWidth":1},"encoding":{"x":{"datum":0.998607,"axis":null},"y":{"datum":1,"axis":null},"y2":{"datum":0.1121}}},{"mark":{"type":"rule","color":"#cccccc","strokeWidth":1},"encoding":{"x":{"datum":0,"axis":null},"x2":{"datum":1},"y":{"datum":0.1121,"axis":null}}}]}
],"spacing":0},

{"vconcat":[
{"width":359,"height":50,"resolve":{"scale":{"x":"independent"}},"layer":[{"data":{"name":"heads"},"transform":[{"calculate":"datum.c+1","as":"c2"},{"calculate":"datum.c+0.5","as":"cm"}],"layer":[{"mark":{"type":"rect","fill":"#000000","stroke":"#999999","strokeWidth":1},"encoding":{"x":{"field":"c","type":"quantitative","scale":{"domain":[0,1,2,3,4,5,6],"range":[0,90.7,149.3,207.7,284.3,353.3,359],"nice":false,"zero":false},"axis":null},"x2":{"field":"c2"},"y":{"datum":0,"scale":{"domain":[0,2],"reverse":true,"nice":false,"zero":false},"axis":null},"y2":{"datum":1}}},{"mark":{"type":"rect","fill":"#ffffff","stroke":"#999999","strokeWidth":1},"encoding":{"x":{"field":"c","type":"quantitative","axis":null},"x2":{"field":"c2"},"y":{"datum":1,"axis":null},"y2":{"datum":2}}},{"mark":{"type":"text","color":"#ffffff","font":"Noto Sans CJK JP","fontSize":12,"fontWeight":"bold"},"encoding":{"x":{"field":"cm","type":"quantitative","axis":null},"y":{"datum":0.5,"axis":null},"text":{"field":"head","type":"nominal"}}}]},{"data":{"name":"stats"},"transform":[{"filter":"datum.p==292"},{"fold":["start","bb","rb","max","prob"]},{"lookup":"key","from":{"data":{"name":"heads"},"key":"k","fields":["c"]}},{"calculate":"datum.c+0.5","as":"cm"}],"mark":{"type":"text","color":"#333333","font":"DejaVu Sans","fontSize":13},"encoding":{"x":{"field":"cm","type":"quantitative","scale":{"domain":[0,1,2,3,4,5,6],"range":[0,90.7,149.3,207.7,284.3,353.3,359],"nice":false,"zero":false},"axis":null},"y":{"datum":1.5,"axis":null},"text":{"field":"value","type":"nominal"}}},{"data":{"name":"nav"},"layer":[{"mark":{"type":"square","size":196,"color":"#a9a9a9","opacity":1,"filled":true},"encoding":{"x":{"field":"s","type":"nominal","scale":{"type":"point","domain":["<",">"],"padding":0.028},"axis":null},"y":{"datum":1.736,"axis":null}}},{"mark":{"type":"text","color":"#ffffff","font":"DejaVu Sans","fontSize":12,"fontWeight":"bold"},"encoding":{"x":{"field":"s","type":"nominal","axis":null},"y":{"datum":1.7,"axis":null},"text":{"field":"s","type":"nominal"}}}]}]},
{"width":359,"height":34,"data":{"values":[{}]},"layer":[{"mark":{"type":"rule","color":"#f3f3f3","strokeWidth":14},"encoding":{"x":{"datum":0.0028,"scale":{"domain":[0,1],"nice":false,"zero":false},"axis":null},"x2":{"datum":0.9972},"y":{"datum":0.48,"scale":{"domain":[0,1],"nice":false,"zero":false},"axis":null}}},{"mark":{"type":"rule","color":"#8c8c8c","strokeWidth":8.5,"strokeCap":"round"},"encoding":{"x":{"datum":0.07674,"axis":null},"x2":{"datum":0.52019},"y":{"datum":0.48,"axis":null}}},{"mark":{"type":"point","shape":"triangle-left","filled":true,"size":30,"color":"#777777","opacity":1},"encoding":{"x":{"datum":0.02563,"axis":null},"y":{"datum":0.48,"axis":null}}},{"mark":{"type":"point","shape":"triangle-right","filled":true,"size":30,"color":"#777777","opacity":1},"encoding":{"x":{"datum":0.97772,"axis":null},"y":{"datum":0.48,"axis":null}}},{"mark":{"type":"rule","color":"#cccccc","strokeWidth":1},"encoding":{"x":{"datum":0.001393,"axis":null}}},{"mark":{"type":"rule","color":"#cccccc","strokeWidth":1},"encoding":{"x":{"datum":0.998607,"axis":null}}}]},
{"hconcat":[
{"width":38,"height":159,"data":{"values":[{}]},"mark":{"type":"rule","color":"#cccccc","strokeWidth":1},"encoding":{"x":{"datum":0.01316,"scale":{"domain":[0,1],"nice":false,"zero":false},"axis":null},"y":{"datum":1.07547,"scale":{"domain":[0,1],"nice":false,"zero":false},"axis":null},"y2":{"datum":-0.24528}}},
{"width":310,"height":159,"view":{"fill":"#000033"},"data":{"name":"pts"},"transform":[{"filter":"datum.p==292"}],"mark":{"type":"line","color":"#ff6600","strokeWidth":3,"point":{"filled":true,"size":28,"color":"#ff5a00"}},"encoding":{"x":{"field":"h","type":"quantitative","title":null,"scale":{"domain":[8,23],"nice":false,"zero":false},"axis":{"values":[8,11,14,17,20,23],"labelExpr":"datum.value+'時'","labelFlush":false,"gridOpacity":{"condition":{"test":"datum.value==8||datum.value==23","value":0},"value":1}}},"y":{"field":"v","type":"quantitative","title":null,"scale":{"domain":[-4000,4000],"nice":false,"zero":false},"axis":{"values":[-4000,-3000,-2000,-1000,0,1000,2000,3000,4000],"labelExpr":"''+datum.value","gridOpacity":{"condition":{"test":"abs(datum.value)==4000","value":0},"value":1},"gridColor":{"condition":{"test":"datum.value==0","value":"#66cc33"},"value":"#ffffff"},"gridWidth":{"condition":{"test":"datum.value==0","value":2},"value":1}}}}},
{"width":11,"height":159,"data":{"values":[{}]},"mark":{"type":"rule","color":"#cccccc","strokeWidth":1},"encoding":{"x":{"datum":0.95455,"scale":{"domain":[0,1],"nice":false,"zero":false},"axis":null},"y":{"datum":1.07547,"scale":{"domain":[0,1],"nice":false,"zero":false},"axis":null},"y2":{"datum":-0.24528}}}
],"spacing":0,"bounds":"flush"},
{"width":359,"height":58,"data":{"name":"stats"},"transform":[{"filter":"datum.p==292"}],"layer":[{"mark":{"type":"rect","fill":"#ffffff","stroke":"#ff7b22","strokeWidth":1.2,"cornerRadius":5},"encoding":{"x":{"datum":0.44095,"scale":{"domain":[0,1],"nice":false,"zero":false},"axis":null},"x2":{"datum":0.56184},"y":{"datum":0.9707,"scale":{"domain":[0,1],"nice":false,"zero":false},"axis":null},"y2":{"datum":0.3103}}},{"mark":{"type":"text","color":"#ff6a13","font":"Open Sans","fontSize":15},"encoding":{"x":{"datum":0.5014,"axis":null},"y":{"datum":0.6405,"axis":null},"text":{"field":"p","type":"nominal"}}},{"mark":{"type":"rule","color":"#cccccc","strokeWidth":1},"encoding":{"x":{"datum":0.001393,"axis":null},"y":{"datum":1,"axis":null},"y2":{"datum":0.1121}}},{"mark":{"type":"rule","color":"#cccccc","strokeWidth":1},"encoding":{"x":{"datum":0.998607,"axis":null},"y":{"datum":1,"axis":null},"y2":{"datum":0.1121}}},{"mark":{"type":"rule","color":"#cccccc","strokeWidth":1},"encoding":{"x":{"datum":0,"axis":null},"x2":{"datum":1},"y":{"datum":0.1121,"axis":null}}}]}
],"spacing":0}
], "spacing": -4},

{"hconcat": [
{"vconcat":[
{"width":359,"height":50,"resolve":{"scale":{"x":"independent"}},"layer":[{"data":{"name":"heads"},"transform":[{"calculate":"datum.c+1","as":"c2"},{"calculate":"datum.c+0.5","as":"cm"}],"layer":[{"mark":{"type":"rect","fill":"#000000","stroke":"#999999","strokeWidth":1},"encoding":{"x":{"field":"c","type":"quantitative","scale":{"domain":[0,1,2,3,4,5,6],"range":[0,90.7,149.3,207.7,284.3,353.3,359],"nice":false,"zero":false},"axis":null},"x2":{"field":"c2"},"y":{"datum":0,"scale":{"domain":[0,2],"reverse":true,"nice":false,"zero":false},"axis":null},"y2":{"datum":1}}},{"mark":{"type":"rect","fill":"#ffffff","stroke":"#999999","strokeWidth":1},"encoding":{"x":{"field":"c","type":"quantitative","axis":null},"x2":{"field":"c2"},"y":{"datum":1,"axis":null},"y2":{"datum":2}}},{"mark":{"type":"text","color":"#ffffff","font":"Noto Sans CJK JP","fontSize":12,"fontWeight":"bold"},"encoding":{"x":{"field":"cm","type":"quantitative","axis":null},"y":{"datum":0.5,"axis":null},"text":{"field":"head","type":"nominal"}}}]},{"data":{"name":"stats"},"transform":[{"filter":"datum.p==293"},{"fold":["start","bb","rb","max","prob"]},{"lookup":"key","from":{"data":{"name":"heads"},"key":"k","fields":["c"]}},{"calculate":"datum.c+0.5","as":"cm"}],"mark":{"type":"text","color":"#333333","font":"DejaVu Sans","fontSize":13},"encoding":{"x":{"field":"cm","type":"quantitative","scale":{"domain":[0,1,2,3,4,5,6],"range":[0,90.7,149.3,207.7,284.3,353.3,359],"nice":false,"zero":false},"axis":null},"y":{"datum":1.5,"axis":null},"text":{"field":"value","type":"nominal"}}},{"data":{"name":"nav"},"layer":[{"mark":{"type":"square","size":196,"color":"#a9a9a9","opacity":1,"filled":true},"encoding":{"x":{"field":"s","type":"nominal","scale":{"type":"point","domain":["<",">"],"padding":0.028},"axis":null},"y":{"datum":1.736,"axis":null}}},{"mark":{"type":"text","color":"#ffffff","font":"DejaVu Sans","fontSize":12,"fontWeight":"bold"},"encoding":{"x":{"field":"s","type":"nominal","axis":null},"y":{"datum":1.7,"axis":null},"text":{"field":"s","type":"nominal"}}}]}]},
{"width":359,"height":34,"data":{"values":[{}]},"layer":[{"mark":{"type":"rule","color":"#f3f3f3","strokeWidth":14},"encoding":{"x":{"datum":0.0028,"scale":{"domain":[0,1],"nice":false,"zero":false},"axis":null},"x2":{"datum":0.9972},"y":{"datum":0.48,"scale":{"domain":[0,1],"nice":false,"zero":false},"axis":null}}},{"mark":{"type":"rule","color":"#8c8c8c","strokeWidth":8.5,"strokeCap":"round"},"encoding":{"x":{"datum":0.07674,"axis":null},"x2":{"datum":0.52019},"y":{"datum":0.48,"axis":null}}},{"mark":{"type":"point","shape":"triangle-left","filled":true,"size":30,"color":"#777777","opacity":1},"encoding":{"x":{"datum":0.02563,"axis":null},"y":{"datum":0.48,"axis":null}}},{"mark":{"type":"point","shape":"triangle-right","filled":true,"size":30,"color":"#777777","opacity":1},"encoding":{"x":{"datum":0.97772,"axis":null},"y":{"datum":0.48,"axis":null}}},{"mark":{"type":"rule","color":"#cccccc","strokeWidth":1},"encoding":{"x":{"datum":0.001393,"axis":null}}},{"mark":{"type":"rule","color":"#cccccc","strokeWidth":1},"encoding":{"x":{"datum":0.998607,"axis":null}}}]},
{"hconcat":[
{"width":38,"height":159,"data":{"values":[{}]},"mark":{"type":"rule","color":"#cccccc","strokeWidth":1},"encoding":{"x":{"datum":0.01316,"scale":{"domain":[0,1],"nice":false,"zero":false},"axis":null},"y":{"datum":1.07547,"scale":{"domain":[0,1],"nice":false,"zero":false},"axis":null},"y2":{"datum":-0.24528}}},
{"width":310,"height":159,"view":{"fill":"#000033"},"data":{"name":"pts"},"transform":[{"filter":"datum.p==293"}],"mark":{"type":"line","color":"#ff6600","strokeWidth":3,"point":{"filled":true,"size":28,"color":"#ff5a00"}},"encoding":{"x":{"field":"h","type":"quantitative","title":null,"scale":{"domain":[8,23],"nice":false,"zero":false},"axis":{"values":[8,11,14,17,20,23],"labelExpr":"datum.value+'時'","labelFlush":false,"gridOpacity":{"condition":{"test":"datum.value==8||datum.value==23","value":0},"value":1}}},"y":{"field":"v","type":"quantitative","title":null,"scale":{"domain":[-4000,4000],"nice":false,"zero":false},"axis":{"values":[-4000,-3000,-2000,-1000,0,1000,2000,3000,4000],"labelExpr":"''+datum.value","gridOpacity":{"condition":{"test":"abs(datum.value)==4000","value":0},"value":1},"gridColor":{"condition":{"test":"datum.value==0","value":"#66cc33"},"value":"#ffffff"},"gridWidth":{"condition":{"test":"datum.value==0","value":2},"value":1}}}}},
{"width":11,"height":159,"data":{"values":[{}]},"mark":{"type":"rule","color":"#cccccc","strokeWidth":1},"encoding":{"x":{"datum":0.95455,"scale":{"domain":[0,1],"nice":false,"zero":false},"axis":null},"y":{"datum":1.07547,"scale":{"domain":[0,1],"nice":false,"zero":false},"axis":null},"y2":{"datum":-0.24528}}}
],"spacing":0,"bounds":"flush"},
{"width":359,"height":58,"data":{"name":"stats"},"transform":[{"filter":"datum.p==293"}],"layer":[{"mark":{"type":"rect","fill":"#ffffff","stroke":"#ff7b22","strokeWidth":1.2,"cornerRadius":5},"encoding":{"x":{"datum":0.44095,"scale":{"domain":[0,1],"nice":false,"zero":false},"axis":null},"x2":{"datum":0.56184},"y":{"datum":0.9707,"scale":{"domain":[0,1],"nice":false,"zero":false},"axis":null},"y2":{"datum":0.3103}}},{"mark":{"type":"text","color":"#ff6a13","font":"Open Sans","fontSize":15},"encoding":{"x":{"datum":0.5014,"axis":null},"y":{"datum":0.6405,"axis":null},"text":{"field":"p","type":"nominal"}}},{"mark":{"type":"rule","color":"#cccccc","strokeWidth":1},"encoding":{"x":{"datum":0.001393,"axis":null},"y":{"datum":1,"axis":null},"y2":{"datum":0.1121}}},{"mark":{"type":"rule","color":"#cccccc","strokeWidth":1},"encoding":{"x":{"datum":0.998607,"axis":null},"y":{"datum":1,"axis":null},"y2":{"datum":0.1121}}},{"mark":{"type":"rule","color":"#cccccc","strokeWidth":1},"encoding":{"x":{"datum":0,"axis":null},"x2":{"datum":1},"y":{"datum":0.1121,"axis":null}}}]}
],"spacing":0},

{"vconcat":[
{"width":359,"height":50,"resolve":{"scale":{"x":"independent"}},"layer":[{"data":{"name":"heads"},"transform":[{"calculate":"datum.c+1","as":"c2"},{"calculate":"datum.c+0.5","as":"cm"}],"layer":[{"mark":{"type":"rect","fill":"#000000","stroke":"#999999","strokeWidth":1},"encoding":{"x":{"field":"c","type":"quantitative","scale":{"domain":[0,1,2,3,4,5,6],"range":[0,90.7,149.3,207.7,284.3,345,359],"nice":false,"zero":false},"axis":null},"x2":{"field":"c2"},"y":{"datum":0,"scale":{"domain":[0,2],"reverse":true,"nice":false,"zero":false},"axis":null},"y2":{"datum":1}}},{"mark":{"type":"rect","fill":"#ffffff","stroke":"#999999","strokeWidth":1},"encoding":{"x":{"field":"c","type":"quantitative","axis":null},"x2":{"field":"c2"},"y":{"datum":1,"axis":null},"y2":{"datum":2}}},{"mark":{"type":"text","color":"#ffffff","font":"Noto Sans CJK JP","fontSize":12,"fontWeight":"bold"},"encoding":{"x":{"field":"cm","type":"quantitative","axis":null},"y":{"datum":0.5,"axis":null},"text":{"field":"head","type":"nominal"}}}]},{"data":{"name":"stats"},"transform":[{"filter":"datum.p==294"},{"fold":["start","bb","rb","max","prob"]},{"lookup":"key","from":{"data":{"name":"heads"},"key":"k","fields":["c"]}},{"calculate":"datum.c+0.5","as":"cm"}],"mark":{"type":"text","color":"#333333","font":"DejaVu Sans","fontSize":13},"encoding":{"x":{"field":"cm","type":"quantitative","scale":{"domain":[0,1,2,3,4,5,6],"range":[0,90.7,149.3,207.7,284.3,345,359],"nice":false,"zero":false},"axis":null},"y":{"datum":1.5,"axis":null},"text":{"field":"value","type":"nominal"}}},{"data":{"name":"nav"},"layer":[{"mark":{"type":"square","size":196,"color":"#a9a9a9","opacity":1,"filled":true},"encoding":{"x":{"field":"s","type":"nominal","scale":{"type":"point","domain":["<",">"],"padding":0.028},"axis":null},"y":{"datum":1.736,"axis":null}}},{"mark":{"type":"text","color":"#ffffff","font":"DejaVu Sans","fontSize":12,"fontWeight":"bold"},"encoding":{"x":{"field":"s","type":"nominal","axis":null},"y":{"datum":1.7,"axis":null},"text":{"field":"s","type":"nominal"}}}]}]},
{"width":359,"height":34,"data":{"values":[{}]},"layer":[{"mark":{"type":"rule","color":"#f3f3f3","strokeWidth":14},"encoding":{"x":{"datum":0.0028,"scale":{"domain":[0,1],"nice":false,"zero":false},"axis":null},"x2":{"datum":0.9972},"y":{"datum":0.48,"scale":{"domain":[0,1],"nice":false,"zero":false},"axis":null}}},{"mark":{"type":"rule","color":"#8c8c8c","strokeWidth":8.5,"strokeCap":"round"},"encoding":{"x":{"datum":0.07674,"axis":null},"x2":{"datum":0.52019},"y":{"datum":0.48,"axis":null}}},{"mark":{"type":"point","shape":"triangle-left","filled":true,"size":30,"color":"#777777","opacity":1},"encoding":{"x":{"datum":0.02563,"axis":null},"y":{"datum":0.48,"axis":null}}},{"mark":{"type":"point","shape":"triangle-right","filled":true,"size":30,"color":"#777777","opacity":1},"encoding":{"x":{"datum":0.97772,"axis":null},"y":{"datum":0.48,"axis":null}}},{"mark":{"type":"rule","color":"#cccccc","strokeWidth":1},"encoding":{"x":{"datum":0.001393,"axis":null}}},{"mark":{"type":"rule","color":"#cccccc","strokeWidth":1},"encoding":{"x":{"datum":0.998607,"axis":null}}}]},
{"hconcat":[
{"width":43,"height":159,"data":{"values":[{}]},"mark":{"type":"rule","color":"#cccccc","strokeWidth":1},"encoding":{"x":{"datum":0.01163,"scale":{"domain":[0,1],"nice":false,"zero":false},"axis":null},"y":{"datum":1.07547,"scale":{"domain":[0,1],"nice":false,"zero":false},"axis":null},"y2":{"datum":-0.24528}}},
{"width":305,"height":159,"view":{"fill":"#000033"},"data":{"name":"pts"},"transform":[{"filter":"datum.p==294"}],"mark":{"type":"line","color":"#ff6600","strokeWidth":3,"point":{"filled":true,"size":28,"color":"#ff5a00"}},"encoding":{"x":{"field":"h","type":"quantitative","title":null,"scale":{"domain":[8,23],"nice":false,"zero":false},"axis":{"values":[8,11,14,17,20,23],"labelExpr":"datum.value+'時'","labelFlush":false,"gridOpacity":{"condition":{"test":"datum.value==8||datum.value==23","value":0},"value":1}}},"y":{"field":"v","type":"quantitative","title":null,"scale":{"domain":[-13000,13000],"nice":false,"zero":false},"axis":{"values":[-13000,-9750,-6500,-3250,0,3250,6500,9750,13000],"labelExpr":"''+datum.value","gridOpacity":{"condition":{"test":"abs(datum.value)==13000","value":0},"value":1},"gridColor":{"condition":{"test":"datum.value==0","value":"#66cc33"},"value":"#ffffff"},"gridWidth":{"condition":{"test":"datum.value==0","value":2},"value":1}}}}},
{"width":11,"height":159,"data":{"values":[{}]},"mark":{"type":"rule","color":"#cccccc","strokeWidth":1},"encoding":{"x":{"datum":0.95455,"scale":{"domain":[0,1],"nice":false,"zero":false},"axis":null},"y":{"datum":1.07547,"scale":{"domain":[0,1],"nice":false,"zero":false},"axis":null},"y2":{"datum":-0.24528}}}
],"spacing":0,"bounds":"flush"},
{"width":359,"height":58,"data":{"name":"stats"},"transform":[{"filter":"datum.p==294"}],"layer":[{"mark":{"type":"rect","fill":"#ffffff","stroke":"#ff7b22","strokeWidth":1.2,"cornerRadius":5},"encoding":{"x":{"datum":0.44095,"scale":{"domain":[0,1],"nice":false,"zero":false},"axis":null},"x2":{"datum":0.56184},"y":{"datum":0.9707,"scale":{"domain":[0,1],"nice":false,"zero":false},"axis":null},"y2":{"datum":0.3103}}},{"mark":{"type":"text","color":"#ff6a13","font":"Open Sans","fontSize":15},"encoding":{"x":{"datum":0.5014,"axis":null},"y":{"datum":0.6405,"axis":null},"text":{"field":"p","type":"nominal"}}},{"mark":{"type":"rule","color":"#cccccc","strokeWidth":1},"encoding":{"x":{"datum":0.001393,"axis":null},"y":{"datum":1,"axis":null},"y2":{"datum":0.1121}}},{"mark":{"type":"rule","color":"#cccccc","strokeWidth":1},"encoding":{"x":{"datum":0.998607,"axis":null},"y":{"datum":1,"axis":null},"y2":{"datum":0.1121}}},{"mark":{"type":"rule","color":"#cccccc","strokeWidth":1},"encoding":{"x":{"datum":0,"axis":null},"x2":{"datum":1},"y":{"datum":0.1121,"axis":null}}}]}
],"spacing":0}
], "spacing": -4},

{"hconcat": [
{"vconcat":[
{"width":359,"height":50,"resolve":{"scale":{"x":"independent"}},"layer":[{"data":{"name":"heads"},"transform":[{"calculate":"datum.c+1","as":"c2"},{"calculate":"datum.c+0.5","as":"cm"}],"layer":[{"mark":{"type":"rect","fill":"#000000","stroke":"#999999","strokeWidth":1},"encoding":{"x":{"field":"c","type":"quantitative","scale":{"domain":[0,1,2,3,4,5,6],"range":[0,90.7,149.3,207.7,284.3,353.3,359],"nice":false,"zero":false},"axis":null},"x2":{"field":"c2"},"y":{"datum":0,"scale":{"domain":[0,2],"reverse":true,"nice":false,"zero":false},"axis":null},"y2":{"datum":1}}},{"mark":{"type":"rect","fill":"#ffffff","stroke":"#999999","strokeWidth":1},"encoding":{"x":{"field":"c","type":"quantitative","axis":null},"x2":{"field":"c2"},"y":{"datum":1,"axis":null},"y2":{"datum":2}}},{"mark":{"type":"text","color":"#ffffff","font":"Noto Sans CJK JP","fontSize":12,"fontWeight":"bold"},"encoding":{"x":{"field":"cm","type":"quantitative","axis":null},"y":{"datum":0.5,"axis":null},"text":{"field":"head","type":"nominal"}}}]},{"data":{"name":"stats"},"transform":[{"filter":"datum.p==295"},{"fold":["start","bb","rb","max","prob"]},{"lookup":"key","from":{"data":{"name":"heads"},"key":"k","fields":["c"]}},{"calculate":"datum.c+0.5","as":"cm"}],"mark":{"type":"text","color":"#333333","font":"DejaVu Sans","fontSize":13},"encoding":{"x":{"field":"cm","type":"quantitative","scale":{"domain":[0,1,2,3,4,5,6],"range":[0,90.7,149.3,207.7,284.3,353.3,359],"nice":false,"zero":false},"axis":null},"y":{"datum":1.5,"axis":null},"text":{"field":"value","type":"nominal"}}},{"data":{"name":"nav"},"layer":[{"mark":{"type":"square","size":196,"color":"#a9a9a9","opacity":1,"filled":true},"encoding":{"x":{"field":"s","type":"nominal","scale":{"type":"point","domain":["<",">"],"padding":0.028},"axis":null},"y":{"datum":1.736,"axis":null}}},{"mark":{"type":"text","color":"#ffffff","font":"DejaVu Sans","fontSize":12,"fontWeight":"bold"},"encoding":{"x":{"field":"s","type":"nominal","axis":null},"y":{"datum":1.7,"axis":null},"text":{"field":"s","type":"nominal"}}}]}]},
{"width":359,"height":34,"data":{"values":[{}]},"layer":[{"mark":{"type":"rule","color":"#f3f3f3","strokeWidth":14},"encoding":{"x":{"datum":0.0028,"scale":{"domain":[0,1],"nice":false,"zero":false},"axis":null},"x2":{"datum":0.9972},"y":{"datum":0.48,"scale":{"domain":[0,1],"nice":false,"zero":false},"axis":null}}},{"mark":{"type":"rule","color":"#8c8c8c","strokeWidth":8.5,"strokeCap":"round"},"encoding":{"x":{"datum":0.07674,"axis":null},"x2":{"datum":0.52019},"y":{"datum":0.48,"axis":null}}},{"mark":{"type":"point","shape":"triangle-left","filled":true,"size":30,"color":"#777777","opacity":1},"encoding":{"x":{"datum":0.02563,"axis":null},"y":{"datum":0.48,"axis":null}}},{"mark":{"type":"point","shape":"triangle-right","filled":true,"size":30,"color":"#777777","opacity":1},"encoding":{"x":{"datum":0.97772,"axis":null},"y":{"datum":0.48,"axis":null}}},{"mark":{"type":"rule","color":"#cccccc","strokeWidth":1},"encoding":{"x":{"datum":0.001393,"axis":null}}},{"mark":{"type":"rule","color":"#cccccc","strokeWidth":1},"encoding":{"x":{"datum":0.998607,"axis":null}}}]},
{"hconcat":[
{"width":38,"height":159,"data":{"values":[{}]},"mark":{"type":"rule","color":"#cccccc","strokeWidth":1},"encoding":{"x":{"datum":0.01316,"scale":{"domain":[0,1],"nice":false,"zero":false},"axis":null},"y":{"datum":1.07547,"scale":{"domain":[0,1],"nice":false,"zero":false},"axis":null},"y2":{"datum":-0.24528}}},
{"width":310,"height":159,"view":{"fill":"#000033"},"data":{"name":"pts"},"transform":[{"filter":"datum.p==295"}],"mark":{"type":"line","color":"#ff6600","strokeWidth":3,"point":{"filled":true,"size":28,"color":"#ff5a00"}},"encoding":{"x":{"field":"h","type":"quantitative","title":null,"scale":{"domain":[8,23],"nice":false,"zero":false},"axis":{"values":[8,11,14,17,20,23],"labelExpr":"datum.value+'時'","labelFlush":false,"gridOpacity":{"condition":{"test":"datum.value==8||datum.value==23","value":0},"value":1}}},"y":{"field":"v","type":"quantitative","title":null,"scale":{"domain":[-3000,3000],"nice":false,"zero":false},"axis":{"values":[-3000,-2250,-1500,-750,0,750,1500,2250,3000],"labelExpr":"''+datum.value","gridOpacity":{"condition":{"test":"abs(datum.value)==3000","value":0},"value":1},"gridColor":{"condition":{"test":"datum.value==0","value":"#66cc33"},"value":"#ffffff"},"gridWidth":{"condition":{"test":"datum.value==0","value":2},"value":1}}}}},
{"width":11,"height":159,"data":{"values":[{}]},"mark":{"type":"rule","color":"#cccccc","strokeWidth":1},"encoding":{"x":{"datum":0.95455,"scale":{"domain":[0,1],"nice":false,"zero":false},"axis":null},"y":{"datum":1.07547,"scale":{"domain":[0,1],"nice":false,"zero":false},"axis":null},"y2":{"datum":-0.24528}}}
],"spacing":0,"bounds":"flush"},
{"width":359,"height":58,"data":{"name":"stats"},"transform":[{"filter":"datum.p==295"}],"layer":[{"mark":{"type":"rect","fill":"#ffffff","stroke":"#ff7b22","strokeWidth":1.2,"cornerRadius":5},"encoding":{"x":{"datum":0.44095,"scale":{"domain":[0,1],"nice":false,"zero":false},"axis":null},"x2":{"datum":0.56184},"y":{"datum":0.9707,"scale":{"domain":[0,1],"nice":false,"zero":false},"axis":null},"y2":{"datum":0.3103}}},{"mark":{"type":"text","color":"#ff6a13","font":"Open Sans","fontSize":15},"encoding":{"x":{"datum":0.5014,"axis":null},"y":{"datum":0.6405,"axis":null},"text":{"field":"p","type":"nominal"}}},{"mark":{"type":"rule","color":"#cccccc","strokeWidth":1},"encoding":{"x":{"datum":0.001393,"axis":null},"y":{"datum":1,"axis":null},"y2":{"datum":0.1121}}},{"mark":{"type":"rule","color":"#cccccc","strokeWidth":1},"encoding":{"x":{"datum":0.998607,"axis":null},"y":{"datum":1,"axis":null},"y2":{"datum":0.1121}}},{"mark":{"type":"rule","color":"#cccccc","strokeWidth":1},"encoding":{"x":{"datum":0,"axis":null},"x2":{"datum":1},"y":{"datum":0.1121,"axis":null}}}]}
],"spacing":0},

{"vconcat":[
{"width":359,"height":50,"resolve":{"scale":{"x":"independent"}},"layer":[{"data":{"name":"heads"},"transform":[{"calculate":"datum.c+1","as":"c2"},{"calculate":"datum.c+0.5","as":"cm"}],"layer":[{"mark":{"type":"rect","fill":"#000000","stroke":"#999999","strokeWidth":1},"encoding":{"x":{"field":"c","type":"quantitative","scale":{"domain":[0,1,2,3,4,5,6],"range":[0,90.7,149.3,207.7,284.3,353.3,359],"nice":false,"zero":false},"axis":null},"x2":{"field":"c2"},"y":{"datum":0,"scale":{"domain":[0,2],"reverse":true,"nice":false,"zero":false},"axis":null},"y2":{"datum":1}}},{"mark":{"type":"rect","fill":"#ffffff","stroke":"#999999","strokeWidth":1},"encoding":{"x":{"field":"c","type":"quantitative","axis":null},"x2":{"field":"c2"},"y":{"datum":1,"axis":null},"y2":{"datum":2}}},{"mark":{"type":"text","color":"#ffffff","font":"Noto Sans CJK JP","fontSize":12,"fontWeight":"bold"},"encoding":{"x":{"field":"cm","type":"quantitative","axis":null},"y":{"datum":0.5,"axis":null},"text":{"field":"head","type":"nominal"}}}]},{"data":{"name":"stats"},"transform":[{"filter":"datum.p==296"},{"fold":["start","bb","rb","max","prob"]},{"lookup":"key","from":{"data":{"name":"heads"},"key":"k","fields":["c"]}},{"calculate":"datum.c+0.5","as":"cm"}],"mark":{"type":"text","color":"#333333","font":"DejaVu Sans","fontSize":13},"encoding":{"x":{"field":"cm","type":"quantitative","scale":{"domain":[0,1,2,3,4,5,6],"range":[0,90.7,149.3,207.7,284.3,353.3,359],"nice":false,"zero":false},"axis":null},"y":{"datum":1.5,"axis":null},"text":{"field":"value","type":"nominal"}}},{"data":{"name":"nav"},"layer":[{"mark":{"type":"square","size":196,"color":"#a9a9a9","opacity":1,"filled":true},"encoding":{"x":{"field":"s","type":"nominal","scale":{"type":"point","domain":["<",">"],"padding":0.028},"axis":null},"y":{"datum":1.736,"axis":null}}},{"mark":{"type":"text","color":"#ffffff","font":"DejaVu Sans","fontSize":12,"fontWeight":"bold"},"encoding":{"x":{"field":"s","type":"nominal","axis":null},"y":{"datum":1.7,"axis":null},"text":{"field":"s","type":"nominal"}}}]}]},
{"width":359,"height":34,"data":{"values":[{}]},"layer":[{"mark":{"type":"rule","color":"#f3f3f3","strokeWidth":14},"encoding":{"x":{"datum":0.0028,"scale":{"domain":[0,1],"nice":false,"zero":false},"axis":null},"x2":{"datum":0.9972},"y":{"datum":0.48,"scale":{"domain":[0,1],"nice":false,"zero":false},"axis":null}}},{"mark":{"type":"rule","color":"#8c8c8c","strokeWidth":8.5,"strokeCap":"round"},"encoding":{"x":{"datum":0.07674,"axis":null},"x2":{"datum":0.52019},"y":{"datum":0.48,"axis":null}}},{"mark":{"type":"point","shape":"triangle-left","filled":true,"size":30,"color":"#777777","opacity":1},"encoding":{"x":{"datum":0.02563,"axis":null},"y":{"datum":0.48,"axis":null}}},{"mark":{"type":"point","shape":"triangle-right","filled":true,"size":30,"color":"#777777","opacity":1},"encoding":{"x":{"datum":0.97772,"axis":null},"y":{"datum":0.48,"axis":null}}},{"mark":{"type":"rule","color":"#cccccc","strokeWidth":1},"encoding":{"x":{"datum":0.001393,"axis":null}}},{"mark":{"type":"rule","color":"#cccccc","strokeWidth":1},"encoding":{"x":{"datum":0.998607,"axis":null}}}]},
{"hconcat":[
{"width":38,"height":159,"data":{"values":[{}]},"mark":{"type":"rule","color":"#cccccc","strokeWidth":1},"encoding":{"x":{"datum":0.01316,"scale":{"domain":[0,1],"nice":false,"zero":false},"axis":null},"y":{"datum":1.07547,"scale":{"domain":[0,1],"nice":false,"zero":false},"axis":null},"y2":{"datum":-0.24528}}},
{"width":310,"height":159,"view":{"fill":"#000033"},"data":{"name":"pts"},"transform":[{"filter":"datum.p==296"}],"mark":{"type":"line","color":"#ff6600","strokeWidth":3,"point":{"filled":true,"size":28,"color":"#ff5a00"}},"encoding":{"x":{"field":"h","type":"quantitative","title":null,"scale":{"domain":[8,23],"nice":false,"zero":false},"axis":{"values":[8,11,14,17,20,23],"labelExpr":"datum.value+'時'","labelFlush":false,"gridOpacity":{"condition":{"test":"datum.value==8||datum.value==23","value":0},"value":1}}},"y":{"field":"v","type":"quantitative","title":null,"scale":{"domain":[-3000,3000],"nice":false,"zero":false},"axis":{"values":[-3000,-2250,-1500,-750,0,750,1500,2250,3000],"labelExpr":"''+datum.value","gridOpacity":{"condition":{"test":"abs(datum.value)==3000","value":0},"value":1},"gridColor":{"condition":{"test":"datum.value==0","value":"#66cc33"},"value":"#ffffff"},"gridWidth":{"condition":{"test":"datum.value==0","value":2},"value":1}}}}},
{"width":11,"height":159,"data":{"values":[{}]},"mark":{"type":"rule","color":"#cccccc","strokeWidth":1},"encoding":{"x":{"datum":0.95455,"scale":{"domain":[0,1],"nice":false,"zero":false},"axis":null},"y":{"datum":1.07547,"scale":{"domain":[0,1],"nice":false,"zero":false},"axis":null},"y2":{"datum":-0.24528}}}
],"spacing":0,"bounds":"flush"},
{"width":359,"height":58,"data":{"name":"stats"},"transform":[{"filter":"datum.p==296"}],"layer":[{"mark":{"type":"rect","fill":"#ffffff","stroke":"#ff7b22","strokeWidth":1.2,"cornerRadius":5},"encoding":{"x":{"datum":0.44095,"scale":{"domain":[0,1],"nice":false,"zero":false},"axis":null},"x2":{"datum":0.56184},"y":{"datum":0.9707,"scale":{"domain":[0,1],"nice":false,"zero":false},"axis":null},"y2":{"datum":0.3103}}},{"mark":{"type":"text","color":"#ff6a13","font":"Open Sans","fontSize":15},"encoding":{"x":{"datum":0.5014,"axis":null},"y":{"datum":0.6405,"axis":null},"text":{"field":"p","type":"nominal"}}},{"mark":{"type":"rule","color":"#cccccc","strokeWidth":1},"encoding":{"x":{"datum":0.001393,"axis":null},"y":{"datum":1,"axis":null},"y2":{"datum":0.1121}}},{"mark":{"type":"rule","color":"#cccccc","strokeWidth":1},"encoding":{"x":{"datum":0.998607,"axis":null},"y":{"datum":1,"axis":null},"y2":{"datum":0.1121}}},{"mark":{"type":"rule","color":"#cccccc","strokeWidth":1},"encoding":{"x":{"datum":0,"axis":null},"x2":{"datum":1},"y":{"datum":0.1121,"axis":null}}}]}
],"spacing":0}
], "spacing": -4}
], "spacing": 0
}
